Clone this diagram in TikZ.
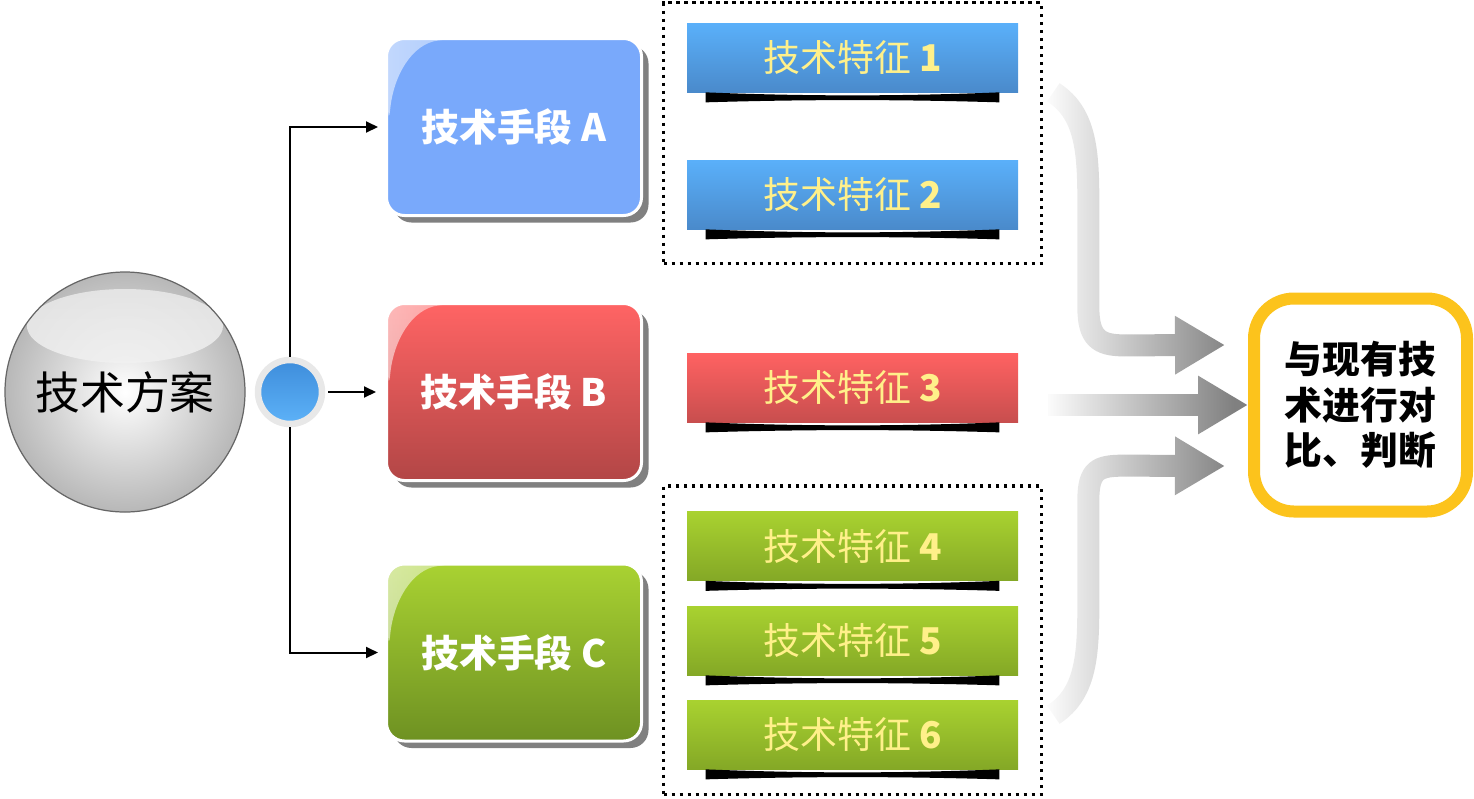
\documentclass[tikz,border=0pt]{standalone}
\usepackage{fontspec}
\setmainfont{Noto Sans CJK SC}
\usepackage{xcolor}
\usepackage{tikz}
\usetikzlibrary{arrows.meta, fit, calc, shadows, fadings}

\definecolor{lanA}{HTML}{79A9FB}
\definecolor{hongA}{HTML}{FF6464}
\definecolor{hongB}{HTML}{B24646}
\definecolor{lvA}{HTML}{A9D232}
\definecolor{lvB}{HTML}{6E9122}
\definecolor{tlan1}{HTML}{5AB0FA}
\definecolor{tlan2}{HTML}{4A8ACB}
\definecolor{thong1}{HTML}{FF6262}
\definecolor{thong2}{HTML}{C84E4E}
\definecolor{tlv1}{HTML}{A9D230}
\definecolor{tlv2}{HTML}{84A826}
\definecolor{huangzi}{HTML}{FFF08A}
\definecolor{huangbian}{HTML}{FCC31C}
\definecolor{qiu1}{HTML}{3E8DDB}
\definecolor{qiu2}{HTML}{5DB2F8}

\tikzfading[name=liufade, left color=transparent!0, right color=transparent!100]
\tikzfading[name=guangfade, left color=transparent!45, right color=transparent!100]

\begin{document}
\begin{tikzpicture}[
  >={Triangle[length=2.4mm, width=2.2mm]},
  fangan/.style={circle, minimum size=4.8cm, inner sep=0pt, draw=black!60, line width=0.7pt,
                 inner color=white, outer color=black!28,
                 font=\fontsize{25.5}{30}\selectfont,
                 path picture={\shade[top color=black!9, bottom color=white, opacity=0.85]
                   ([yshift=-1.08cm]path picture bounding box.north) ellipse (1.96cm and 0.74cm);}},
  hub/.style={circle, minimum size=1.28cm, inner sep=0pt, draw=black!9, line width=0.13cm,
              top color=qiu1, bottom color=qiu2},
  shouduan/.style={draw=white, line width=0.06cm, rounded corners=0.36cm,
                   minimum width=5.1cm, minimum height=3.54cm, text=white,
                   font=\fontsize{21.5}{26}\selectfont\bfseries,
                   drop shadow={shadow xshift=0.14cm, shadow yshift=-0.14cm, fill=black!50, opacity=1},
                   path picture={\fill[white, path fading=guangfade]
                     (path picture bounding box.north west) -- ++(1.4,0)
                     .. controls +(-0.9,-0.1) and +(0.1,1.0) .. ++(-1.36,-1.76) -- cycle;}},
  tezheng/.style={minimum width=6.62cm, minimum height=1.38cm, inner sep=0pt, text=huangzi,
                  font=\fontsize{21}{25}\selectfont},
  fita/.style={fill=black},
  kuang/.style={draw, line width=0.07cm, dash pattern=on 0.07cm off 0.09cm},
  duibi/.style={draw=huangbian, line width=0.24cm, rounded corners=0.8cm, fill=white,
                minimum size=4.26cm, align=center, font=\fontsize{21.5}{26}\selectfont\bfseries},
  lianjie/.style={->, line width=0.04cm},
  liuxiang/.style={draw=black!50, line width=0.44cm, -{Triangle[length=1cm, width=1.1cm]}}
]
\useasboundingbox (0,0) rectangle (29.48,-15.96);

% ---------- 技术方案 与 分支点 ----------
\node[fangan] (plan) at (2.5,-7.84) {技术方案};
\node[hub] (fen) at (5.8,-7.84) {};

% ---------- 技术手段 A / B / C ----------
\node[shouduan, fill=lanA] (mA) at (10.28,-2.54) {技术手段 A};
\node[shouduan, top color=hongA, bottom color=hongB] (mB) at (10.28,-7.84) {技术手段 B};
\node[shouduan, top color=lvA, bottom color=lvB] (mC) at (10.28,-13.05) {技术手段 C};

% ---------- 技术特征 1--6 ----------
\node[tezheng, top color=tlan1, bottom color=tlan2] (f1) at (17.05,-1.15) {技术特征 \textbf{1}};
\node[tezheng, top color=tlan1, bottom color=tlan2] (f2) at (17.05,-3.89) {技术特征 \textbf{2}};
\node[tezheng, top color=thong1, bottom color=thong2] (f3) at (17.05,-7.75) {技术特征 \textbf{3}};
\node[tezheng, top color=tlv1, bottom color=tlv2] (f4) at (17.05,-10.92) {技术特征 \textbf{4}};
\node[tezheng, top color=tlv1, bottom color=tlv2] (f5) at (17.05,-12.81) {技术特征 \textbf{5}};
\node[tezheng, top color=tlv1, bottom color=tlv2] (f6) at (17.05,-14.69) {技术特征 \textbf{6}};

\foreach \f in {f1,f2,f3,f4,f5,f6}
  \fill[fita] ($(\f.south west)+(0.38,0)$) .. controls +(2,-0.08) and +(-2,-0.08) .. ($(\f.south east)+(-0.38,0)$)
    -- ++(0,-0.2) .. controls +(-2,0.06) and +(2,0.06) .. ($(\f.south west)+(0.38,-0.2)$) -- cycle;

% ---------- 虚线框 ----------
\node[kuang, fit=(f1)(f2), inner xsep=0.46cm, inner ysep=0.54cm, yshift=-0.14cm] (gA) {};
\node[kuang, fit=(f4)(f6), inner xsep=0.46cm, inner ysep=0.5cm] (gC) {};

% ---------- 对比、判断 ----------
\node[duibi] (cmp) at (27.21,-8.1) {与现有技\\术进行对\\比、判断};

% ---------- 分支连线 ----------
\draw[lianjie] (fen.north) |- ([xshift=-0.14cm]mA.west);
\draw[lianjie] ([xshift=0.06cm]fen.east) -- ([xshift=-0.18cm]mB.west);
\draw[lianjie] (fen.south) |- ([xshift=-0.14cm]mC.west);

% ---------- 渐变箭头 ----------
\draw[liuxiang] ($(f1.south east)+(0.7,0)$) .. controls +(0.7,-0.45) and +(0,1.1) .. ++(0.7,-2.4)
  -- ++(0,-1.9) .. controls +(0,-0.6) and +(-0.5,0) .. ++(0.7,-0.76) -- ($(cmp.west)+(-0.46,1.2)$);
\draw[liuxiang] ($(f3.east |- cmp.west)+(0.6,0)$) -- (cmp.west);
\draw[liuxiang] ($(f6.north east)+(0.7,-0.3)$) .. controls +(0.7,0.45) and +(0,-1.1) .. ++(0.7,2.4)
  -- ++(0,1.9) .. controls +(0,0.6) and +(-0.5,0) .. ++(0.7,0.68) -- ($(cmp.west)+(-0.46,-1.22)$);
\begin{scope}
  \clip ($(gA.north east)+(0.06,0)$) rectangle (cmp.west |- gC.south);
  \fill[white, path fading=liufade] (gA.north east) rectangle ($(cmp.west |- gC.south)+(-0.26,0)$);
\end{scope}

\end{tikzpicture}
\end{document}
